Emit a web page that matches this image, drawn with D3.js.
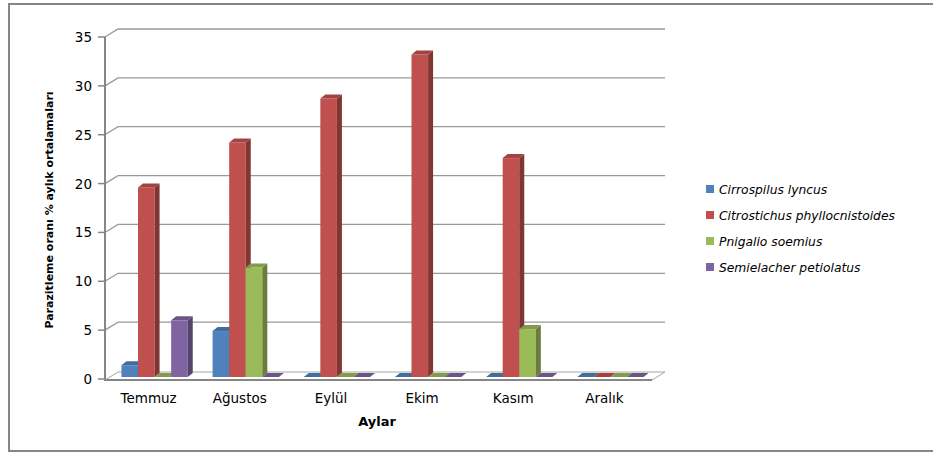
<!DOCTYPE html>
<html>
<head>
<meta charset="utf-8">
<script src="https://cdn.jsdelivr.net/npm/d3@7/dist/d3.min.js"></script>
<style>
  html, body { margin: 0; padding: 0; background: #fff; }
  svg { display: block; }
  text { font-family: "DejaVu Sans", Verdana, sans-serif; fill: #000; }
</style>
</head>
<body>
<svg id="chart" width="933" height="453"></svg>
<script>
// Monthly mean parasitism rates (%) per parasitoid species
const months = ["Temmuz", "Ağustos", "Eylül", "Ekim", "Kasım", "Aralık"];
const seriesNames = [
  "Cirrospilus lyncus",
  "Citrostichus phyllocnistoides",
  "Pnigalio soemius",
  "Semielacher petiolatus"
];
const cirrospilus = [1.2, 4.7, 0, 0, 0, 0];
const citrostichus = [19.4, 24.0, 28.5, 33.0, 22.4, 0];
const pnigalio = [0, 11.2, 0, 0, 4.9, 0];
const semielacher = [5.8, 0, 0, 0, 0, 0];
const yTicks = [0, 5, 10, 15, 20, 25, 30, 35];
const seriesColors = ["#4F81BD", "#C0504D", "#9BBB59", "#8064A2"];

const seriesValues = [cirrospilus, citrostichus, pnigalio, semielacher];

const svg = d3.select("#chart");

// outer chart frame
svg.append("rect")
  .attr("x", 9).attr("y", 4).attr("width", 940).attr("height", 447)
  .attr("fill", "none").attr("stroke", "#868686").attr("stroke-width", 2);

// plot geometry (front plane + depth offset to the back wall)
const plotLeft = 105, plotRight = 652, plotTop = 37, plotBase = 379;
const wallDx = 13, wallDy = -8;      // depth of floor/back wall
const barOffDx = 4, barOffDy = -2;   // bars sit slightly behind the front plane
const barDx = 5, barDy = -4;         // bar depth

const x0 = d3.scaleBand().domain(months).range([plotLeft, plotRight]).padding(0);
const x1 = d3.scaleBand().domain(seriesNames).range([0, x0.bandwidth()])
  .paddingInner(0).paddingOuter(0.75);
const y = d3.scaleLinear().domain([0, 35]).range([plotBase, plotTop]);

// back-wall gridlines with their diagonal links to the axis
const grid = svg.append("g");
yTicks.filter(t => t > 0).forEach(t => {
  const yy = y(t);
  grid.append("path")
    .attr("d", `M${plotLeft},${yy} L${plotLeft + wallDx},${yy + wallDy} L${plotRight + wallDx},${yy + wallDy}`)
    .attr("fill", "none").attr("stroke", "#999999").attr("stroke-width", 1.3);
});

// floor
const fy = y(0) + 1;
svg.append("path")
  .attr("d", `M${plotLeft},${fy} L${plotLeft + wallDx},${fy + wallDy} L${plotRight + wallDx},${fy + wallDy} L${plotRight},${fy} Z`)
  .attr("fill", "#fff").attr("stroke", "#a6a6a6").attr("stroke-width", 1);
svg.append("line")
  .attr("x1", plotLeft).attr("x2", plotRight).attr("y1", fy).attr("y2", fy)
  .attr("stroke", "#868686").attr("stroke-width", 2);

// 3D columns
const bars = svg.append("g");
months.forEach((m, i) => {
  seriesNames.forEach((s, j) => {
    const v = seriesValues[j][i];
    const c = d3.color(seriesColors[j]);
    const bx = x0(m) + x1(s) + barOffDx;
    const bw = x1.bandwidth();
    const yb = y(0) + barOffDy;
    const yt = y(v) + barOffDy;
    const g = bars.append("g");
    if (v > 0) {
      // front face
      g.append("rect").attr("x", bx).attr("y", yt).attr("width", bw).attr("height", yb - yt)
        .attr("fill", c.formatHex());
      // side face
      g.append("path")
        .attr("d", `M${bx + bw},${yt} L${bx + bw + barDx},${yt + barDy} L${bx + bw + barDx},${yb + barDy} L${bx + bw},${yb} Z`)
        .attr("fill", c.darker(1.1).formatHex());
    }
    // top face (drawn also for zero values)
    g.append("path")
      .attr("d", `M${bx},${yt} L${bx + barDx},${yt + barDy} L${bx + bw + barDx},${yt + barDy} L${bx + bw},${yt} Z`)
      .attr("fill", c.darker(0.5).formatHex());
  });
});

// y axis
const yAxis = svg.append("g");
yAxis.append("line")
  .attr("x1", plotLeft).attr("x2", plotLeft).attr("y1", plotTop).attr("y2", fy + 1)
  .attr("stroke", "#868686").attr("stroke-width", 2);
yTicks.forEach(t => {
  yAxis.append("line")
    .attr("x1", plotLeft - 7).attr("x2", plotLeft).attr("y1", y(t)).attr("y2", y(t))
    .attr("stroke", "#868686").attr("stroke-width", 1.5);
  yAxis.append("text")
    .attr("x", 92).attr("y", y(t) + 5)
    .attr("text-anchor", "end")
    .style("font-size", "13.5px")
    .text(t);
});

// category labels
months.forEach(m => {
  svg.append("text")
    .attr("x", x0(m) + x0.bandwidth() / 2 - 2).attr("y", 403)
    .attr("text-anchor", "middle")
    .style("font-size", "13.5px")
    .text(m);
});

// axis titles
svg.append("text")
  .attr("x", 377).attr("y", 426)
  .attr("text-anchor", "middle")
  .style("font-size", "13px").style("font-weight", "bold")
  .text("Aylar");
svg.append("text")
  .attr("transform", "translate(53,210) rotate(-90)")
  .attr("text-anchor", "middle")
  .style("font-size", "11px").style("font-weight", "bold")
  .text("Parazitleme oranı % aylık ortalamaları");

// legend
const legend = svg.append("g");
seriesNames.forEach((s, j) => {
  const ly = 189 + j * 26;
  legend.append("rect")
    .attr("x", 706).attr("y", ly - 4).attr("width", 8).attr("height", 8)
    .attr("fill", seriesColors[j]);
  legend.append("text")
    .attr("x", 719).attr("y", ly + 5)
    .style("font-size", "12.3px").style("font-style", "italic")
    .text(s);
});
</script>
</body>
</html>
